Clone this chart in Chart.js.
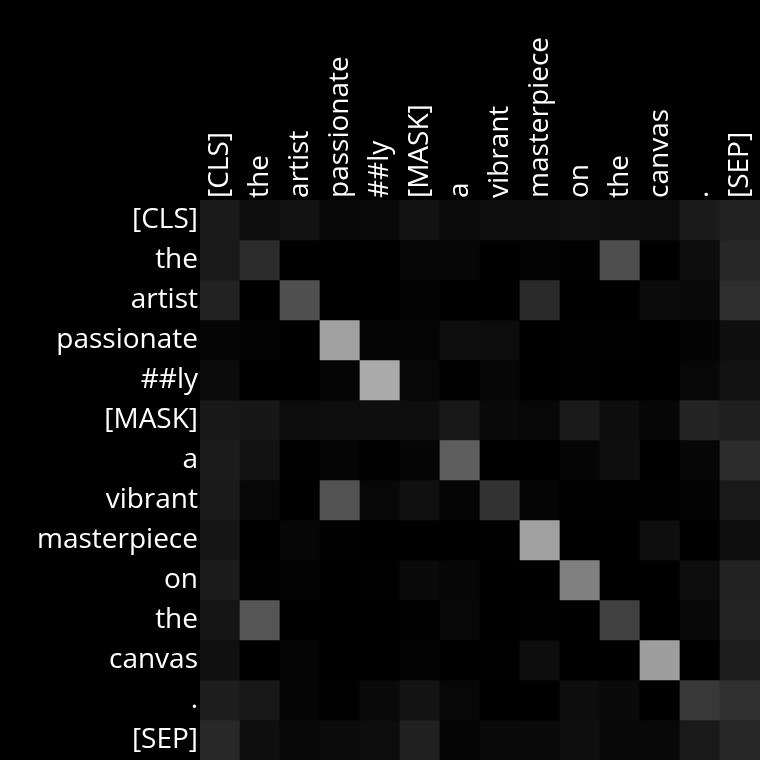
<!DOCTYPE html>
<html>
<head>
<meta charset="utf-8">
<script src="https://cdn.jsdelivr.net/npm/chart.js@4/dist/chart.umd.min.js"></script>
<style>
html,body{margin:0;padding:0;background:#000;}
#wrap{width:760px;height:760px;position:relative;}
</style>
</head>
<body>
<div id="wrap"><canvas id="c"></canvas></div>
<script>
const tokens = ["[CLS]","the","artist","passionate","##ly","[MASK]","a","vibrant","masterpiece","on","the","canvas",".","[SEP]"];

const row0  = [.102,.055,.067,.031,.035,.071,.043,.055,.055,.063,.059,.051,.102,.129];
const row1  = [.102,.169,0,0,0,.024,.024,0,.012,.004,.306,0,.051,.153];
const row2  = [.133,0,.314,0,0,.012,0,0,.165,0,0,.043,.035,.18];
const row3  = [.02,.012,0,.627,.02,.016,.055,.047,0,.004,.004,0,.012,.059];
const row4  = [.043,0,0,.02,.667,.027,.008,.024,0,.004,0,0,.027,.067];
const row5  = [.094,.09,.047,.055,.055,.055,.094,.039,.027,.102,.051,.024,.141,.122];
const row6  = [.11,.071,.004,.016,.004,.02,.369,0,0,.02,.055,0,.024,.173];
const row7  = [.102,.027,0,.322,.027,.063,.02,.196,.016,.008,.008,.004,.012,.098];
const row8  = [.082,0,.024,.008,0,0,0,.004,.627,0,0,.055,0,.059];
const row9  = [.11,.004,.012,0,.004,.039,.024,0,0,.502,0,0,.051,.133];
const row10 = [.078,.333,0,0,0,.004,.027,0,.004,0,.251,0,.031,.137];
const row11 = [.063,0,.02,0,0,.012,0,.004,.051,0,0,.62,0,.114];
const row12 = [.114,.094,.016,.008,.039,.075,.027,0,0,.051,.039,0,.22,.188];
const row13 = [.157,.059,.027,.043,.051,.125,.016,.039,.035,.055,.031,.031,.102,.149];

const rows = [row0,row1,row2,row3,row4,row5,row6,row7,row8,row9,row10,row11,row12,row13];

function gray(v){ const g = Math.max(0, Math.min(255, Math.round(v*255))); return `rgb(${g},${g},${g})`; }

const datasets = rows.map((vals, r) => ({
  label: tokens[r],
  data: tokens.map(() => [r, r + 1]),
  backgroundColor: vals.map(gray),
  borderWidth: 0,
  barPercentage: 1,
  categoryPercentage: 1,
  grouped: false
}));

const font = { family: "'Open Sans'", size: 28 };

new Chart(document.getElementById('c'), {
  type: 'bar',
  data: { labels: tokens, datasets },
  options: {
    responsive: true,
    maintainAspectRatio: false,
    animation: false,
    layout: { padding: 0 },
    plugins: { legend: { display: false }, tooltip: { enabled: false } },
    scales: {
      x: {
        position: 'top',
        grid: { display: false, drawTicks: false },
        border: { display: false },
        ticks: { color: '#fff', font, autoSkip: false, maxRotation: 90, minRotation: 90, padding: 2, labelOffset: 34 },
        afterFit: s => { s.height = 200; s.paddingLeft = 0; s.paddingRight = 0; }
      },
      y: {
        type: 'linear',
        min: 0, max: tokens.length,
        reverse: true,
        grid: { display: false, drawTicks: false },
        border: { display: false },
        afterBuildTicks: s => { s.ticks = tokens.map((_, i) => ({ value: i + 0.5 })); },
        ticks: { color: '#fff', font, padding: 2, callback: (v, i) => tokens[i] },
        afterFit: s => { s.width = 200; s.paddingTop = 0; s.paddingBottom = 0; }
      }
    }
  }
});
</script>
</body>
</html>
